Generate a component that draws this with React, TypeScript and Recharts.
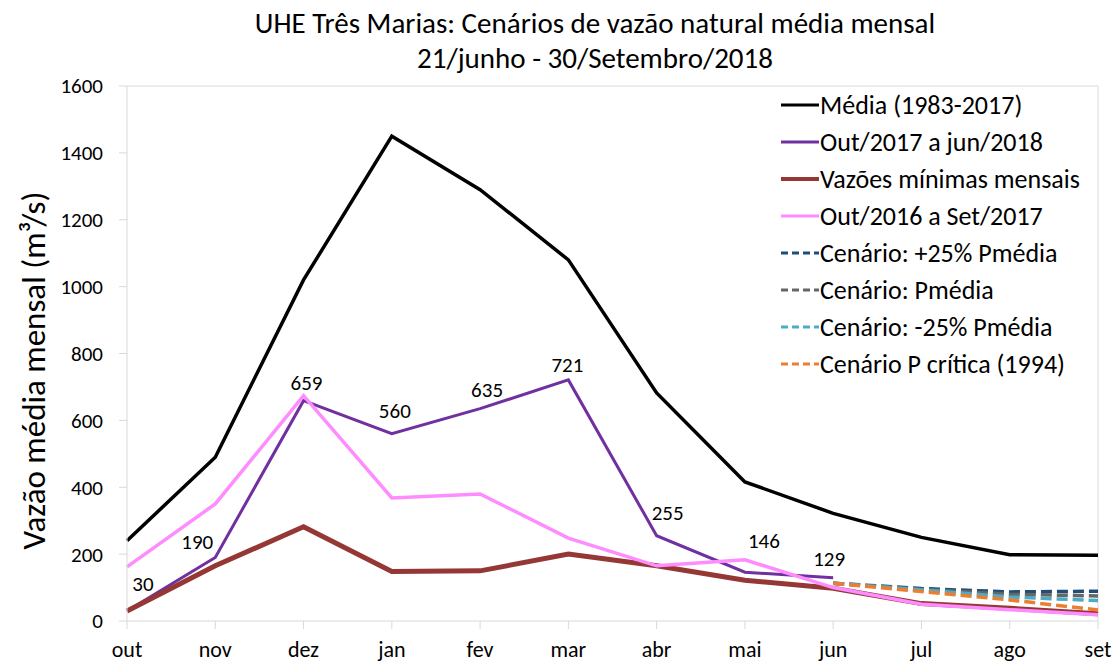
import React from 'react';
import { LineChart, Line, XAxis, YAxis, LabelList, ReferenceLine } from 'recharts';

const months = ['out', 'nov', 'dez', 'jan', 'fev', 'mar', 'abr', 'mai', 'jun', 'jul', 'ago', 'set'];

const media = [240, 490, 1020, 1450, 1290, 1080, 682, 416, 322, 250, 198, 197];
const out2017 = [30, 190, 659, 560, 635, 721, 255, 146, 129, null, null, null];
const minimas = [30, 165, 282, 148, 150, 200, 165, 122, 98, 52, 38, 22];
const out2016 = [162, 350, 674, 368, 380, 248, 165, 183, 100, 50, 34, 19];
const cenMais25 = [null, null, null, null, null, null, null, null, 113, 97, 87, 89];
const cenMedia = [null, null, null, null, null, null, null, null, 113, 95, 80, 75];
const cenMenos25 = [null, null, null, null, null, null, null, null, 113, 93, 72, 61];
const cenCritica = [null, null, null, null, null, null, null, null, 113, 88, 63, 33];

const yTicks = [0, 200, 400, 600, 800, 1000, 1200, 1400, 1600];

const data = months.map((m, i) => ({
  month: m,
  media: media[i],
  out2017: out2017[i],
  minimas: minimas[i],
  out2016: out2016[i],
  cenMais25: cenMais25[i],
  cenMedia: cenMedia[i],
  cenMenos25: cenMenos25[i],
  cenCritica: cenCritica[i],
}));

const FONT = 'Carlito, Lato, sans-serif';

// label nudges for the purple series (dx, dy from the point to the baseline centre)
const labelNudge = [
  [16, -20], [-18, -8], [3, -11], [3, -16], [7, -12], [-1, -8], [11, -16], [19, -24], [-4, -12],
];

const series = [
  { key: 'media', name: 'Média (1983-2017)', color: '#000000', width: 3.5, dash: undefined },
  { key: 'out2017', name: 'Out/2017 a jun/2018', color: '#7030A0', width: 3, dash: undefined },
  { key: 'minimas', name: 'Vazões mínimas mensais', color: '#953735', width: 5, dash: undefined },
  { key: 'out2016', name: 'Out/2016 a Set/2017', color: '#FF8CFF', width: 3.5, dash: undefined },
  { key: 'cenMais25', name: 'Cenário: +25% Pmédia', color: '#1F4E79', width: 3.5, dash: '11 5' },
  { key: 'cenMedia', name: 'Cenário: Pmédia', color: '#666666', width: 3.5, dash: '11 5' },
  { key: 'cenMenos25', name: 'Cenário: -25% Pmédia', color: '#4BACC6', width: 3.5, dash: '11 5' },
  { key: 'cenCritica', name: 'Cenário P crítica (1994)', color: '#ED7D31', width: 3.5, dash: '11 5' },
];

const PurpleLabel = (props: any) => {
  const { x, y, value, index } = props;
  if (value == null) return null;
  const [dx, dy] = labelNudge[index] || [0, -12];
  return (
    <text x={x + dx} y={y + dy} textAnchor="middle" fontSize={21} fontFamily={FONT} fill="#000">
      {value}
    </text>
  );
};

const YTitle = (props: any) => {
  const { viewBox } = props;
  const cx = 34;
  const cy = viewBox.y + viewBox.height / 2 + 17;
  return (
    <text
      x={cx}
      y={cy}
      transform={`rotate(-90, ${cx}, ${cy})`}
      textAnchor="middle"
      dominantBaseline="central"
      fontSize={33}
      fontFamily={FONT}
      fill="#000"
    >
      Vazão média mensal (m³/s)
    </text>
  );
};

const LegendBox = () => (
  <div
    style={{
      position: 'absolute',
      left: 764,
      top: 86,
      width: 334,
      height: 300,
      background: 'transparent',
      boxSizing: 'border-box',
      paddingLeft: 17,
      fontFamily: FONT,
    }}
  >
    {series.map((s) => (
      <div key={s.key} style={{ display: 'flex', alignItems: 'center', height: 37.1 }}>
        <svg width={38} height={10} style={{ marginRight: 1 }}>
          <line
            x1={0}
            y1={5}
            x2={38}
            y2={5}
            stroke={s.color}
            strokeWidth={s.width > 4 ? 4 : 3}
            strokeDasharray={s.dash ? '7 4' : undefined}
          />
        </svg>
        <span style={{ fontSize: 26, color: '#000', whiteSpace: 'nowrap', lineHeight: '30px' }}>{s.name}</span>
      </div>
    ))}
  </div>
);

const App: React.FC = () => {
  return (
    <div style={{ position: 'absolute', left: 0, top: 0, width: 1117, height: 662, background: '#fff' }}>
      <LineChart width={1117} height={662} data={data} margin={{ top: 86, right: 19, bottom: 0, left: 0 }}>
        <XAxis
          dataKey="month"
          height={41}
          stroke="#D9D9D9"
          tickLine={{ stroke: '#D9D9D9' }}
          tickSize={8}
          tick={{ fill: '#000', fontSize: 22, fontFamily: FONT }}
          tickMargin={12}
        />
        <YAxis
          width={127}
          domain={[0, 1600]}
          ticks={yTicks}
          stroke="#D9D9D9"
          tickLine={{ stroke: '#D9D9D9' }}
          tickSize={8}
          tick={{ fill: '#000', fontSize: 21, fontFamily: FONT }}
          tickMargin={16}
          label={<YTitle />}
        />
        <ReferenceLine y={1600} stroke="#E6E6E6" strokeWidth={1.5} />
        <ReferenceLine x="set" stroke="#E6E6E6" strokeWidth={1.5} />
        {series.map((s) => (
          <Line
            key={s.key}
            type="linear"
            dataKey={s.key}
            name={s.name}
            stroke={s.color}
            strokeWidth={s.width}
            strokeDasharray={s.dash}
            dot={false}
            activeDot={false}
            connectNulls={false}
            isAnimationActive={false}
          >
            {s.key === 'out2017' ? <LabelList dataKey="out2017" content={<PurpleLabel />} /> : null}
          </Line>
        ))}
      </LineChart>
      <div
        style={{
          position: 'absolute',
          left: 0,
          width: 1190,
          top: 6,
          textAlign: 'center',
          fontFamily: FONT,
          fontSize: 29,
          lineHeight: '35px',
          color: '#000',
        }}
      >
        UHE Três Marias: Cenários de vazão natural média mensal
        <br />
        21/junho - 30/Setembro/2018
      </div>
      <LegendBox />
    </div>
  );
};

export default App;
